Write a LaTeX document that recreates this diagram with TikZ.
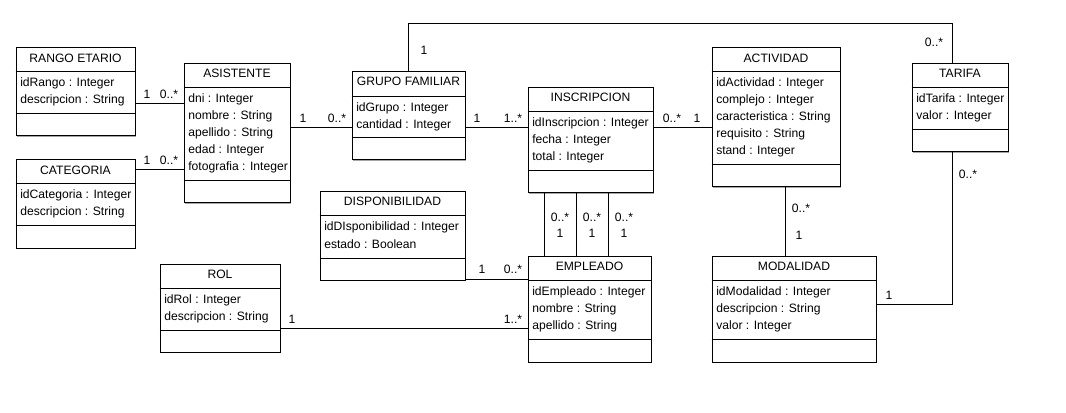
\documentclass[tikz,border=0pt]{standalone}
\usepackage{fontspec}
\setmainfont{Liberation Sans}
\usetikzlibrary{fit,shadows}

\begin{document}
\begin{tikzpicture}[x=0.75pt, y=-0.75pt,
    classbox/.style={draw, fill=white, inner sep=0pt, line width=0.75pt,
        drop shadow={shadow xshift=0.75pt, shadow yshift=-0.75pt, fill=black!35, opacity=1}},
    ctitle/.style={anchor=base, inner sep=0pt, font=\fontsize{9.1}{11}\selectfont},
    attr/.style={anchor=base west, inner sep=0pt, font=\fontsize{9.1}{11}\selectfont},
    mult/.style={anchor=base, inner sep=0pt, font=\fontsize{9.1}{11}\selectfont},
    sep/.style={line width=0.75pt},
    assoc/.style={line width=0.75pt}]
	\useasboundingbox (0,0) rectangle (1066,413);

	% RANGO ETARIO
	\node[classbox, fit={(16,48) (135,136)}] (rango) {};
	\node[ctitle] (rango-t) at (rango.north |- 0,62.5) {RANGO ETARIO};
	\draw[sep] (rango.west |- 0,72) -- (rango.east |- 0,72);
	\draw[sep] (rango.west |- 0,114) -- (rango.east |- 0,114);
	\foreach \t [count=\i] in {idRango : Integer, descripcion : String}
		\node[attr] (rango-a\i) at (20, 70+17*\i) {\t};

	% CATEGORIA
	\node[classbox, fit={(16,160) (135,248)}] (categoria) {};
	\node[ctitle] (categoria-t) at (categoria.north |- 0,174.5) {CATEGORIA};
	\draw[sep] (categoria.west |- 0,184) -- (categoria.east |- 0,184);
	\draw[sep] (categoria.west |- 0,226) -- (categoria.east |- 0,226);
	\foreach \t [count=\i] in {idCategoria : Integer, descripcion : String}
		\node[attr] (categoria-a\i) at (20, 182+17*\i) {\t};

	% ASISTENTE
	\node[classbox, fit={(184,64) (290,203)}] (asistente) {};
	\node[ctitle] (asistente-t) at (asistente.north |- 0,78) {ASISTENTE};
	\draw[sep] (asistente.west |- 0,88) -- (asistente.east |- 0,88);
	\draw[sep] (asistente.west |- 0,181) -- (asistente.east |- 0,181);
	\foreach \t [count=\i] in {dni : Integer, nombre : String, apellido : String, edad : Integer, fotografia : Integer}
		\node[attr] (asistente-a\i) at (188, 86+17*\i) {\t};

	% GRUPO FAMILIAR
	\node[classbox, fit={(352,72) (465,160)}] (grupo) {};
	\node[ctitle] (grupo-t) at (grupo.north |- 0,86) {GRUPO FAMILIAR};
	\draw[sep] (grupo.west |- 0,97) -- (grupo.east |- 0,97);
	\draw[sep] (grupo.west |- 0,138) -- (grupo.east |- 0,138);
	\foreach \t [count=\i] in {idGrupo : Integer, cantidad : Integer}
		\node[attr] (grupo-a\i) at (356, 95+17*\i) {\t};

	% INSCRIPCION
	\node[classbox, fit={(528,88) (653,193)}] (inscripcion) {};
	\node[ctitle] (inscripcion-t) at (inscripcion.north |- 0,102) {INSCRIPCION};
	\draw[sep] (inscripcion.west |- 0,112) -- (inscripcion.east |- 0,112);
	\draw[sep] (inscripcion.west |- 0,171) -- (inscripcion.east |- 0,171);
	\foreach \t [count=\i] in {idInscripcion : Integer, fecha : Integer, total : Integer}
		\node[attr] (inscripcion-a\i) at (532, 110+17*\i) {\t};

	% ACTIVIDAD
	\node[classbox, fit={(712,48) (840,187)}] (actividad) {};
	\node[ctitle] (actividad-t) at (actividad.north |- 0,62.5) {ACTIVIDAD};
	\draw[sep] (actividad.west |- 0,72) -- (actividad.east |- 0,72);
	\draw[sep] (actividad.west |- 0,165) -- (actividad.east |- 0,165);
	\foreach \t [count=\i] in {idActividad : Integer, complejo : Integer, caracteristica : String, requisito : String, stand : Integer}
		\node[attr] (actividad-a\i) at (716, 70+17*\i) {\t};

	% TARIFA
	\node[classbox, fit={(912,64) (1008,152)}] (tarifa) {};
	\node[ctitle] (tarifa-t) at (tarifa.north |- 0,78) {TARIFA};
	\draw[sep] (tarifa.west |- 0,88) -- (tarifa.east |- 0,88);
	\draw[sep] (tarifa.west |- 0,130) -- (tarifa.east |- 0,130);
	\foreach \t [count=\i] in {idTarifa : Integer, valor : Integer}
		\node[attr] (tarifa-a\i) at (916, 86+17*\i) {\t};

	% DISPONIBILIDAD
	\node[classbox, fit={(320,192) (465,280)}] (disponibilidad) {};
	\node[ctitle] (disponibilidad-t) at (disponibilidad.north |- 0,206) {DISPONIBILIDAD};
	\draw[sep] (disponibilidad.west |- 0,216) -- (disponibilidad.east |- 0,216);
	\draw[sep] (disponibilidad.west |- 0,258) -- (disponibilidad.east |- 0,258);
	\foreach \t [count=\i] in {idDIsponibilidad : Integer, estado : Boolean}
		\node[attr] (disponibilidad-a\i) at (324, 214+17*\i) {\t};

	% ROL
	\node[classbox, fit={(160,264) (280,352)}] (rol) {};
	\node[ctitle] (rol-t) at (rol.north |- 0,278) {ROL};
	\draw[sep] (rol.west |- 0,288) -- (rol.east |- 0,288);
	\draw[sep] (rol.west |- 0,330) -- (rol.east |- 0,330);
	\foreach \t [count=\i] in {idRol : Integer, descripcion : String}
		\node[attr] (rol-a\i) at (164, 286+17*\i) {\t};

	% EMPLEADO
	\node[classbox, fit={(528,256) (651,362)}] (empleado) {};
	\node[ctitle] (empleado-t) at (empleado.north |- 0,270) {EMPLEADO};
	\draw[sep] (empleado.west |- 0,280) -- (empleado.east |- 0,280);
	\draw[sep] (empleado.west |- 0,339) -- (empleado.east |- 0,339);
	\foreach \t [count=\i] in {idEmpleado : Integer, nombre : String, apellido : String}
		\node[attr] (empleado-a\i) at (532, 278+17*\i) {\t};

	% MODALIDAD
	\node[classbox, fit={(712,256) (876,362)}] (modalidad) {};
	\node[ctitle] (modalidad-t) at (modalidad.north |- 0,270) {MODALIDAD};
	\draw[sep] (modalidad.west |- 0,280) -- (modalidad.east |- 0,280);
	\draw[sep] (modalidad.west |- 0,339) -- (modalidad.east |- 0,339);
	\foreach \t [count=\i] in {idModalidad : Integer, descripcion : String, valor : Integer}
		\node[attr] (modalidad-a\i) at (716, 278+17*\i) {\t};

	% associations
	\coordinate (topcorner) at (952,24);
	\draw[assoc] (rango.east |- 0,104) -- (asistente.west |- 0,104);
	\draw[assoc] (categoria.east |- 0,170) -- (asistente.west |- 0,170);
	\draw[assoc] (asistente.east |- 0,128) -- (grupo.west |- 0,128);
	\draw[assoc] (grupo.east |- 0,128) -- (inscripcion.west |- 0,128);
	\draw[assoc] (inscripcion.east |- 0,128) -- (actividad.west |- 0,128);
	\draw[assoc] (grupo.north) |- (topcorner) -- (tarifa.north -| topcorner);
	\foreach \x in {544,576,608}
		\draw[assoc] (inscripcion.south -| \x,0) -- (empleado.north -| \x,0);
	\draw[assoc] (actividad.south -| 785,0) -- (modalidad.north -| 785,0);
	\draw[assoc] (tarifa.south -| topcorner) |- (modalidad.east |- 0,304);
	\draw[assoc] (disponibilidad.east |- 0,279) -- (empleado.west |- 0,279);
	\draw[assoc] (rol.east |- 0,328) -- (empleado.west |- 0,328);

	% multiplicities
	\node[mult] (m1) at (147,99) {1};
	\node[mult] (m2) at (169,99) {0..*};
	\node[mult] (m3) at (147,165) {1};
	\node[mult] (m4) at (169,165) {0..*};
	\node[mult] (m5) at (303,123) {1};
	\node[mult] (m6) at (337,123) {0..*};
	\node[mult] (m7) at (477,123) {1};
	\node[mult] (m8) at (513,123) {1..*};
	\node[mult] (m9) at (672,123) {0..*};
	\node[mult] (m10) at (697,123) {1};
	\node[mult] (m11) at (424,55) {1};
	\node[mult] (m12) at (934,47) {0..*};
	\foreach \x [count=\i] in {560,592,624} {
		\node[mult] (m-e\i) at (\x,222) {0..*};
		\node[mult] (m-f\i) at (\x,238) {1};
	}
	\node[mult] (m13) at (801,213) {0..*};
	\node[mult] (m14) at (799,239) {1};
	\node[mult] (m15) at (968,179) {0..*};
	\node[mult] (m16) at (889,299) {1};
	\node[mult] (m17) at (482,273) {1};
	\node[mult] (m18) at (513,273) {0..*};
	\node[mult] (m19) at (292,323) {1};
	\node[mult] (m20) at (513,323) {1..*};
\end{tikzpicture}
\end{document}
